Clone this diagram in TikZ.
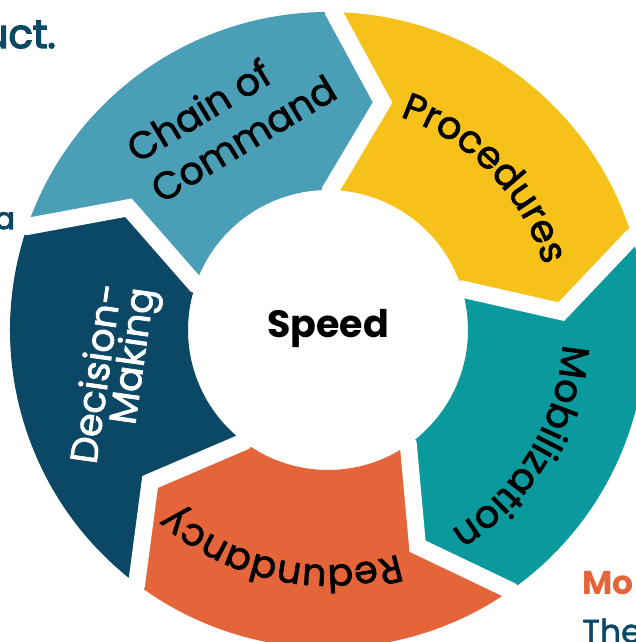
\documentclass[tikz,border=0pt]{standalone}
\usepackage{fontspec}
\setmainfont{Poppins}
\newfontfamily\labelfont{Poppins}[FakeBold=1.8]
\newfontfamily\fragfont{Poppins}[FakeBold=3.5]
\usetikzlibrary{decorations.text}

\definecolor{cmdblue}{HTML}{4A9EB6}
\definecolor{procyellow}{HTML}{F6C118}
\definecolor{mobteal}{HTML}{0A999D}
\definecolor{redorange}{HTML}{E5653A}
\definecolor{decnavy}{HTML}{0B4866}

% one chevron-shaped ring segment: #1 = angle of its trailing gap, #2 = colour
\newcommand{\ringseg}[2]{%
  \pgfmathsetmacro{\ga}{#1}%
  \pgfmathsetmacro{\gb}{#1-72}%
  \fill[#2] (\ga:318pt) arc[start angle=\ga, end angle=\gb, radius=318pt]
    -- ({\gb-12.5}:234pt) -- (\gb:140pt)
    arc[start angle=\gb, end angle=\ga, radius=140pt]
    -- ({\ga-12.5}:234pt) -- cycle;
}
% white chevron gap between two segments
\newcommand{\ringgap}[1]{%
  \draw[gapline] (#1:100pt) -- (#1:140pt) -- ({#1-12.5}:234pt) -- (#1:318pt) -- (#1:350pt);
}

\tikzset{
  gapline/.style={white, line width=17pt, line join=miter},
  seglabel/.style={text=black, font=\labelfont\fontsize{38}{47}\selectfont, inner sep=0pt},
  arclabel/.style={decorate, decoration={text along path, text align=center, text color=black}},
  edgetext/.style={inner sep=0pt, font=\fragfont\fontsize{40}{40}\selectfont},
}

\begin{document}
\begin{tikzpicture}[x=1pt, y=1pt]
  \useasboundingbox (0,0) rectangle (635,642);

  \begin{scope}[shift={(328,312)}]
    % ring segments, clockwise from the top left
    \ringseg{161}{cmdblue}
    \ringseg{89}{procyellow}
    \ringseg{17}{mobteal}
    \ringseg{-55}{redorange}
    \ringseg{-127}{decnavy}

    % gaps
    \ringgap{89}
    \ringgap{17}
    \ringgap{-55}
    \ringgap{-127}
    \ringgap{161}

    % centre
    \node[font=\fontsize{38}{38}\selectfont\bfseries, inner sep=0pt] (speed) at (0,2) {Speed};

    % curved labels
    \path[arclabel, decoration={text={|\labelfont\fontsize{38}{38}\selectfont|Procedures}}]
      (88:225pt) arc[start angle=88, end angle=0, radius=225pt];
    \path[arclabel, decoration={text={|\labelfont\fontsize{38}{38}\selectfont|Mobilization}}]
      (12:235pt) arc[start angle=12, end angle=-74, radius=235pt];
    \path[arclabel, decoration={text={|\labelfont\fontsize{38}{38}\selectfont|Redundancy}}]
      (-60:235pt) arc[start angle=-60, end angle=-144, radius=235pt];
  \end{scope}

  % straight labels
  \node[seglabel, align=left, rotate=31] (chain) at (231,524) {Chain of\\Command};
  \node[seglabel, align=right, rotate=82, font=\labelfont\fontsize{38}{33}\selectfont, text=white]
    (decision) at (116,266) {Decision-\\Making};

  % fragments of surrounding text
  \node[edgetext, text=decnavy, anchor=base east] (fragA) at (56,594) {uct.};
  \node[edgetext, text=decnavy, anchor=base east, font=\fragfont\fontsize{30}{30}\selectfont] (fragB) at (15,413) {a};
  \node[edgetext, text=redorange, anchor=base west, font=\fontsize{33}{33}\selectfont\bfseries] (fragC) at (582,47) {Mo};
  \node[edgetext, text=decnavy, anchor=base west, font=\labelfont\fontsize{33}{33}\selectfont] (fragD) at (582,-1) {The};
\end{tikzpicture}
\end{document}
